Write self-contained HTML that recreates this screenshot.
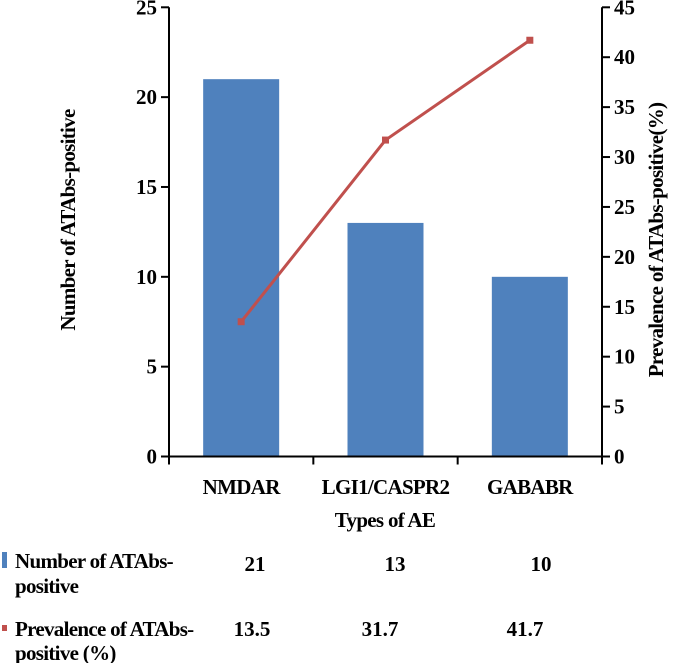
<!DOCTYPE html>
<html><head><meta charset="utf-8"><style>
html,body{margin:0;padding:0;background:#fff;}
svg{display:block;font-family:"Liberation Serif",serif;font-weight:bold;}
</style></head><body>
<svg id="chart" width="685" height="663" viewBox="0 0 685 663">
<g id="g"></g>
</svg>
<script>
const categories = ["NMDAR", "LGI1/CASPR2", "GABABR"];
const counts = [21, 13, 10];
const prevalence = [13.5, 31.7, 41.7];
const leftTicks = [0, 5, 10, 15, 20, 25];
const rightTicks = [0, 5, 10, 15, 20, 25, 30, 35, 40, 45];
const countLabels = ["21", "13", "10"];
const prevLabels = ["13.5", "31.7", "41.7"];

const NS = "http://www.w3.org/2000/svg";
const g = document.getElementById("g");
const X0 = 169, X1 = 602, Y0 = 456.5, YT = 7.3;
const yL = v => Y0 - (v / 25) * (Y0 - YT);
const yR = v => Y0 - (v / 45) * (Y0 - YT);
const band = (X1 - X0) / categories.length;
const xC = i => X0 + band * (i + 0.5);
const LS = "-0.7";
function el(tag, attrs, text) {
  const e = document.createElementNS(NS, tag);
  for (const k in attrs) e.setAttribute(k, attrs[k]);
  if (text !== undefined) e.textContent = text;
  g.appendChild(e);
  return e;
}
counts.forEach((v, i) => {
  const w = 76;
  const b = el("rect", {x: xC(i) - w / 2, y: yL(v), width: w, height: Y0 - yL(v), fill: "#4f81bd"});
  
  
});
let a = el("line", {x1: X0, y1: YT, x2: X0, y2: Y0 + 8, stroke: "#000", "stroke-width": 2});
 
a = el("line", {x1: X1, y1: YT, x2: X1, y2: Y0 + 8, stroke: "#000", "stroke-width": 2});
 
a = el("line", {x1: X0 - 8, y1: Y0, x2: X1 + 8, y2: Y0, stroke: "#000", "stroke-width": 2});
 
for (let i = 1; i < categories.length; i++) {
  el("line", {x1: X0 + band * i, y1: Y0, x2: X0 + band * i, y2: Y0 + 8, stroke: "#000", "stroke-width": 2});
}
leftTicks.forEach(v => {
  el("line", {x1: X0 - 8, y1: yL(v), x2: X0, y2: yL(v), stroke: "#000", "stroke-width": 2});
  const t = el("text", {x: X0 - 12, y: yL(v) + 7, "text-anchor": "end", "font-size": 21}, String(v));
   
});
rightTicks.forEach(v => {
  el("line", {x1: X1, y1: yR(v), x2: X1 + 8, y2: yR(v), stroke: "#000", "stroke-width": 2});
  const t = el("text", {x: X1 + 12, y: yR(v) + 7, "text-anchor": "start", "font-size": 21}, String(v));
   
});
categories.forEach((c, i) => {
  const t = el("text", {x: xC(i), y: 494, "text-anchor": "middle", "font-size": 21, "letter-spacing": LS}, c);
   
});
const pts = prevalence.map((v, i) => xC(i) + "," + yR(v)).join(" ");
const pl = el("polyline", {points: pts, fill: "none", stroke: "#c0504d", "stroke-width": 3});
 
prevalence.forEach((v, i) => {
  const m = el("rect", {x: xC(i) - 3.5, y: yR(v) - 3.5, width: 7, height: 7, fill: "#c0504d"});
   
});
let t = el("text", {x: 385, y: 527, "text-anchor": "middle", "font-size": 21, "letter-spacing": LS}, "Types of AE");
 
t = el("text", {x: 0, y: 0, "text-anchor": "middle", "font-size": 21, "letter-spacing": LS, transform: "translate(75,220) rotate(-90)"}, "Number of ATAbs-positive");
 
t = el("text", {x: 0, y: 0, "text-anchor": "middle", "font-size": 21, "letter-spacing": LS, transform: "translate(663,240) rotate(-90)"}, "Prevalence of ATAbs-positive(%)");
 
let m = el("rect", {x: 2, y: 552, width: 5, height: 16, fill: "#4f81bd"});
 
t = el("text", {x: 15, y: 568, "font-size": 21, "letter-spacing": LS}, "Number of ATAbs-");
 
el("text", {x: 15, y: 593, "font-size": 21, "letter-spacing": LS}, "positive");
m = el("rect", {x: 2, y: 625, width: 5, height: 6, fill: "#c0504d"});
 
t = el("text", {x: 15, y: 636, "font-size": 21, "letter-spacing": LS}, "Prevalence of ATAbs-");
 
el("text", {x: 15, y: 660, "font-size": 21, "letter-spacing": LS}, "positive (%)");
const cx = [255, 395, 541], px = [252, 380, 525];
countLabels.forEach((s, i) => {
  const e = el("text", {x: cx[i], y: 571, "text-anchor": "middle", "font-size": 21}, s);
   
});
prevLabels.forEach((s, i) => {
  const e = el("text", {x: px[i], y: 636, "text-anchor": "middle", "font-size": 21}, s);
   
});
</script>
</body></html>
